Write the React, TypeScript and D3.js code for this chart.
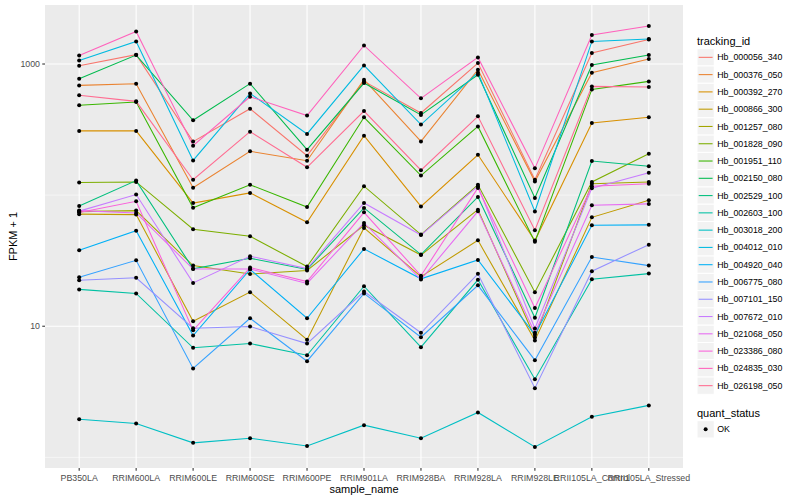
import { useEffect, useRef } from 'react';
import * as d3 from 'd3';

const WIDTH = 800;
const HEIGHT = 500;
const PANEL = { left: 45, right: 683, top: 5, bottom: 468 };
const FONT = '"Liberation Sans", Arial, Helvetica, sans-serif';

const categories = [
  'PB350LA', 'RRIM600LA', 'RRIM600LE', 'RRIM600SE', 'RRIM600PE', 'RRIM901LA',
  'RRIM928BA', 'RRIM928LA', 'RRIM928LE', 'RRII105LA_Control', 'RRII105LA_Stressed',
];

const trackingIds = [
  'Hb_000056_340', 'Hb_000376_050', 'Hb_000392_270', 'Hb_000866_300', 'Hb_001257_080',
  'Hb_001828_090', 'Hb_001951_110', 'Hb_002150_080', 'Hb_002529_100', 'Hb_002603_100',
  'Hb_003018_200', 'Hb_004012_010', 'Hb_004920_040', 'Hb_006775_080', 'Hb_007101_150',
  'Hb_007672_010', 'Hb_021068_050', 'Hb_023386_080', 'Hb_024835_030', 'Hb_026198_050',
];

// ggplot hue palette, 20 levels
const trackingColors = [
  '#F8766D', '#EA8331', '#D89000', '#C09B00', '#A3A500', '#7CAE00', '#39B600', '#00BB4E',
  '#00BF7D', '#00C1A3', '#00BFC4', '#00BAE0', '#00B0F6', '#35A2FF', '#9590FF', '#C77CFF',
  '#E76BF3', '#FA62DB', '#FF62BC', '#FF6C91',
];

// FPKM + 1 per sample, same order as categories
const hb000056_340 = [970, 1178, 256, 456, 200, 737, 423, 1018, 131, 1213, 1539];
const hb000376_050 = [687, 708, 114, 216, 183, 759, 257, 905, 127, 859, 1092];
const hb000392_270 = [309, 309, 87, 104, 62, 284, 82, 203, 45, 355, 392];
const hb000866_300 = [71.6, 71.0, 10.9, 18.2, 7.9, 56.2, 23.9, 45.2, 7.8, 67.7, 91.3];
const hb001257_080 = [74.8, 76.2, 29.0, 25.0, 26.6, 58.9, 34.9, 77.5, 8.2, 122, 126];
const hb001828_090 = [125, 126, 55, 48.5, 28.5, 117, 50, 120, 18.2, 126, 207];
const hb001951_110 = [484, 513, 80, 120, 81, 392, 141, 334, 44, 640, 737];
const hb002150_080 = [773, 1171, 372, 708, 222, 716, 409, 829, 95, 983, 1171];
const hb002529_100 = [82.7, 129, 27.4, 33.0, 27.1, 79.9, 35.2, 96.9, 11.6, 182, 166];
const hb002603_100 = [19.1, 17.8, 6.85, 7.38, 6.01, 20.2, 6.92, 22.6, 3.94, 22.8, 25.2];
const hb003018_200 = [1.95, 1.81, 1.29, 1.40, 1.22, 1.76, 1.40, 2.20, 1.20, 2.04, 2.49];
const hb004012_010 = [1065, 1487, 184, 597, 293, 976, 345, 859, 75, 1487, 1550];
const hb004920_040 = [38.0, 53.6, 8.5, 27.1, 11.5, 38.9, 23.0, 32.0, 8.6, 58.9, 59.3];
const hb006775_080 = [23.6, 31.8, 4.76, 11.5, 5.41, 17.8, 8.25, 20.5, 5.51, 33.7, 29.0];
const hb007101_150 = [22.4, 23.4, 9.65, 9.95, 7.38, 18.4, 8.91, 25.1, 3.37, 26.3, 41.9];
const hb007672_010 = [75.5, 101, 21.4, 34.2, 27.5, 87.2, 49.6, 117, 9.6, 113, 148];
const hb021068_050 = [76.2, 73.1, 27.3, 27.3, 21.2, 61.4, 22.7, 75.2, 8.9, 83.6, 85.7];
const hb023386_080 = [73.6, 89.7, 9.3, 28.0, 21.9, 73.9, 24.3, 113.5, 13.8, 117, 122];
const hb024835_030 = [1163, 1772, 238, 563, 404, 1386, 547, 1123, 160, 1663, 1948];
const hb026198_050 = [577, 519, 131, 305, 163, 438, 155, 399, 54, 675, 668];

const seriesValues = [
  hb000056_340, hb000376_050, hb000392_270, hb000866_300, hb001257_080,
  hb001828_090, hb001951_110, hb002150_080, hb002529_100, hb002603_100,
  hb003018_200, hb004012_010, hb004920_040, hb006775_080, hb007101_150,
  hb007672_010, hb021068_050, hb023386_080, hb024835_030, hb026198_050,
];

const yMajorTicks = [10, 1000];
const yMinorTicks = [1, 100];

type Pt = { cat: string; v: number };

export default function App() {
  const svgRef = useRef<SVGSVGElement>(null);

  useEffect(() => {
    if (!svgRef.current) return;
    const svg = d3.select(svgRef.current);
    svg.selectAll('*').remove();

    const x = d3.scalePoint<string>()
      .domain(categories)
      .range([PANEL.left, PANEL.right])
      .padding(0.6);

    // log domain with ggplot style 5% expansion
    const all = seriesValues.flat();
    const lmin = Math.log10(d3.min(all)!);
    const lmax = Math.log10(d3.max(all)!);
    const pad = (lmax - lmin) * 0.05;
    const y = d3.scaleLog()
      .domain([10 ** (lmin - pad), 10 ** (lmax + pad)])
      .range([PANEL.bottom, PANEL.top]);

    // panel
    svg.append('rect')
      .attr('x', PANEL.left).attr('y', PANEL.top)
      .attr('width', PANEL.right - PANEL.left)
      .attr('height', PANEL.bottom - PANEL.top)
      .attr('fill', '#EBEBEB');

    const grid = svg.append('g');
    grid.selectAll('.minor')
      .data(yMinorTicks)
      .join('line')
      .attr('x1', PANEL.left).attr('x2', PANEL.right)
      .attr('y1', d => y(d)).attr('y2', d => y(d))
      .attr('stroke', '#fff').attr('stroke-width', 0.55);
    grid.selectAll('.major')
      .data(yMajorTicks)
      .join('line')
      .attr('x1', PANEL.left).attr('x2', PANEL.right)
      .attr('y1', d => y(d)).attr('y2', d => y(d))
      .attr('stroke', '#fff').attr('stroke-width', 1.1);
    grid.selectAll('.vmajor')
      .data(categories)
      .join('line')
      .attr('x1', d => x(d)!).attr('x2', d => x(d)!)
      .attr('y1', PANEL.top).attr('y2', PANEL.bottom)
      .attr('stroke', '#fff').attr('stroke-width', 1.1);

    // lines
    const line = d3.line<Pt>()
      .x(d => x(d.cat)!)
      .y(d => y(d.v));

    const seriesData = seriesValues.map(vals => vals.map((v, i) => ({ cat: categories[i], v })));

    svg.append('g')
      .selectAll('path')
      .data(seriesData)
      .join('path')
      .attr('d', d => line(d))
      .attr('fill', 'none')
      .attr('stroke', (_, i) => trackingColors[i])
      .attr('stroke-width', 1.07);

    // points
    svg.append('g')
      .selectAll('circle')
      .data(seriesData.flat())
      .join('circle')
      .attr('cx', d => x(d.cat)!)
      .attr('cy', d => y(d.v))
      .attr('r', 2)
      .attr('fill', '#000');

    // y axis
    const yAxis = svg.append('g');
    yAxis.selectAll('line')
      .data(yMajorTicks)
      .join('line')
      .attr('x1', PANEL.left - 2.75).attr('x2', PANEL.left)
      .attr('y1', d => y(d)).attr('y2', d => y(d))
      .attr('stroke', '#333').attr('stroke-width', 1.07);
    yAxis.selectAll('text')
      .data(yMajorTicks)
      .join('text')
      .attr('x', PANEL.left - 5)
      .attr('y', d => y(d))
      .attr('dy', '0.35em')
      .attr('text-anchor', 'end')
      .style('font-family', FONT)
      .style('font-size', '8.8px')
      .style('fill', '#4D4D4D')
      .text(d => String(d));

    // x axis
    const xAxis = svg.append('g');
    xAxis.selectAll('line')
      .data(categories)
      .join('line')
      .attr('x1', d => x(d)!).attr('x2', d => x(d)!)
      .attr('y1', PANEL.bottom).attr('y2', PANEL.bottom + 2.75)
      .attr('stroke', '#333').attr('stroke-width', 1.07);
    xAxis.selectAll('text')
      .data(categories)
      .join('text')
      .attr('x', d => x(d)!)
      .attr('y', PANEL.bottom + 12.5)
      .attr('text-anchor', 'middle')
      .style('font-family', FONT)
      .style('font-size', '8.8px')
      .style('fill', '#4D4D4D')
      .text(d => d);

    // axis titles
    svg.append('text')
      .attr('x', (PANEL.left + PANEL.right) / 2)
      .attr('y', 493)
      .attr('text-anchor', 'middle')
      .style('font-family', FONT)
      .style('font-size', '11px')
      .style('fill', '#000')
      .text('sample_name');
    svg.append('text')
      .attr('transform', `translate(17, ${(PANEL.top + PANEL.bottom) / 2}) rotate(-90)`)
      .attr('text-anchor', 'middle')
      .style('font-family', FONT)
      .style('font-size', '11px')
      .style('fill', '#000')
      .text('FPKM + 1');

    // legend: tracking_id
    const lx = 697;
    const key = 17.28;
    const legend = svg.append('g');
    legend.append('text')
      .attr('x', lx).attr('y', 44.5)
      .style('font-family', FONT)
      .style('font-size', '11px')
      .style('fill', '#000')
      .text('tracking_id');
    const rows = legend.selectAll('g.row')
      .data(trackingIds)
      .join('g')
      .attr('class', 'row')
      .attr('transform', (_, i) => `translate(${lx}, ${48.7 + i * key})`);
    rows.append('rect')
      .attr('width', key).attr('height', key)
      .attr('fill', '#F2F2F2').attr('stroke', '#fff').attr('stroke-width', 1);
    rows.append('line')
      .attr('x1', 1.7).attr('x2', key - 1.7)
      .attr('y1', key / 2).attr('y2', key / 2)
      .attr('stroke', (_, i) => trackingColors[i])
      .attr('stroke-width', 1.07);
    rows.append('text')
      .attr('x', key + 3).attr('y', key / 2)
      .attr('dy', '0.35em')
      .style('font-family', FONT)
      .style('font-size', '8.8px')
      .style('fill', '#000')
      .text(d => d);

    // legend: quant_status
    legend.append('text')
      .attr('x', lx).attr('y', 416.5)
      .style('font-family', FONT)
      .style('font-size', '11px')
      .style('fill', '#000')
      .text('quant_status');
    const q = legend.append('g').attr('transform', `translate(${lx}, 420.7)`);
    q.append('rect')
      .attr('width', key).attr('height', key)
      .attr('fill', '#F2F2F2').attr('stroke', '#fff').attr('stroke-width', 1);
    q.append('circle')
      .attr('cx', key / 2).attr('cy', key / 2).attr('r', 2)
      .attr('fill', '#000');
    q.append('text')
      .attr('x', key + 3).attr('y', key / 2)
      .attr('dy', '0.35em')
      .style('font-family', FONT)
      .style('font-size', '8.8px')
      .style('fill', '#000')
      .text('OK');
  }, []);

  return (
    <svg
      ref={svgRef}
      width={WIDTH}
      height={HEIGHT}
      style={{ position: 'absolute', left: 0, top: 0, background: '#fff' }}
    />
  );
}
